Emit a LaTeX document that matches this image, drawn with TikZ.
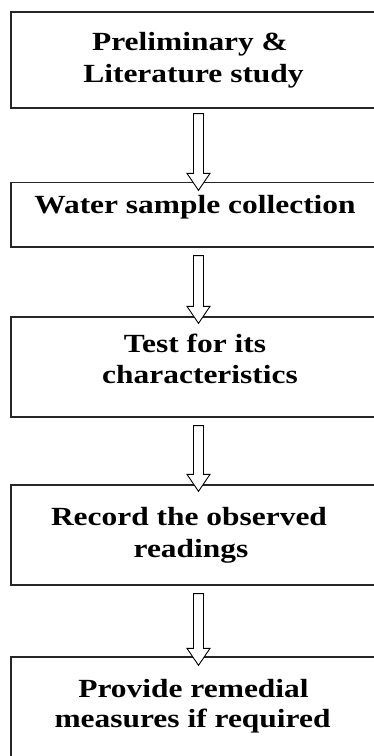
\documentclass[tikz,border=0pt]{standalone}
\usepackage{fontspec}
\setmainfont[FakeStretch=1.2]{Liberation Serif}
\usetikzlibrary{calc}
\begin{document}
\begin{tikzpicture}[x=1pt,y=1pt,
  box/.style={draw=black!85, line width=1.3pt, minimum width=369pt, inner sep=0pt},
  lbl/.style={font=\fontsize{26.2}{31}\selectfont\bfseries, anchor=base, inner sep=0pt},
  hollow/.style={draw=black, line width=0.9pt, fill=white,
    to path={let \p1=(\tikztostart), \p2=(\tikztotarget) in
      (\x1-5pt,\y1) -- (\x1-5pt,\y2+17pt) -- (\x1-11.5pt,\y2+17pt) -- (\x2,\y2)
      -- (\x1+11.5pt,\y2+17pt) -- (\x1+5pt,\y2+17pt) -- (\x1+5pt,\y1) -- cycle}}]
\useasboundingbox (0,0) rectangle (374,-756);
\clip (0,0) rectangle (374,-756);
% boxes
\node[box, minimum height=96pt]  (b1) at (195.5,-60) {};
\node[box, minimum height=64.5pt] (b2) at (195.5,-214.75) {};
\node[box, minimum height=100pt] (b3) at (195.5,-367) {};
\node[box, minimum height=100pt] (b4) at (195.5,-535) {};
\node[box, minimum height=133pt] (b5) at (195.5,-723.5) {};
% texts
\node[lbl] (t1a) at (190,-50) {Preliminary \&};
\node[lbl] (t1b) at (193.5,-82) {Literature study};
\node[lbl] (t2)  at (195,-213) {Water sample collection};
\node[lbl] (t3a) at (195,-352) {Test for its};
\node[lbl] (t3b) at (200,-383) {characteristics};
\node[lbl] (t4a) at (189,-525) {Record the observed};
\node[lbl] (t4b) at (191,-557) {readings};
\node[lbl] (t5a) at (193.5,-697) {Provide remedial};
\node[lbl] (t5b) at (192.5,-727) {measures if required};
% arrows
\draw[hollow] ($(b1.south)+(3,-5)$) to ($(b2.north)+(3,-8.5)$);
\draw[hollow] ($(b2.south)+(3,-8)$) to ($(b3.north)+(3,-7)$);
\draw[hollow] ($(b3.south)+(3,-8)$) to ($(b4.north)+(3,-7)$);
\draw[hollow] ($(b4.south)+(3,-8)$) to ($(b5.north)+(3,-9)$);
\end{tikzpicture}
\end{document}
